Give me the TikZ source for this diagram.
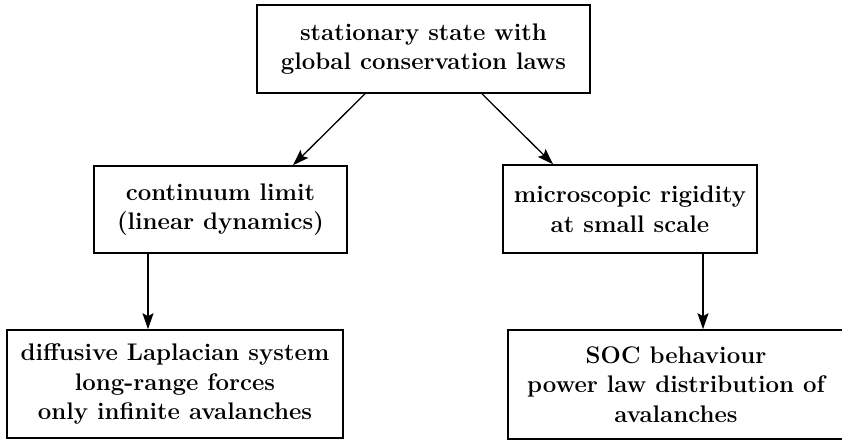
\documentclass[tikz,border=0pt]{standalone}
\usetikzlibrary{arrows.meta}
\tikzset{
  box/.style={draw, line width=1.6pt, inner sep=0pt, align=center,
    font=\fontsize{24}{29.5}\selectfont\bfseries},
  arr/.style={line width=1.3pt, -{Stealth[length=16pt,width=11pt,inset=3pt]}}
}
\begin{document}
\begin{tikzpicture}[x=1pt,y=-1pt]
\useasboundingbox (0,0) rectangle (842,442);
\node[box, minimum width=333pt, minimum height=88pt] (top) at (423.5,49)
  {stationary state with\\global conservation laws};
\node[box, minimum width=253pt, minimum height=87pt] (lm) at (220.5,209.5)
  {continuum limit\\(linear dynamics)};
\node[box, minimum width=254pt, minimum height=88pt] (rm) at (630,209)
  {microscopic rigidity\\at small scale};
\node[box, minimum width=336pt, minimum height=108pt] (bl) at (175,384)
  {diffusive Laplacian system\\long-range forces\\only infinite avalanches};
\node[box, minimum width=336pt, minimum height=109pt] (br) at (676,384.5)
  {SOC behaviour\\power law distribution of\\avalanches};
\draw[arr] ([xshift=-58.5pt]top.south) -- ([xshift=72.5pt]lm.north);
\draw[arr] ([xshift=58.5pt]top.south) -- ([xshift=-77pt]rm.north);
\draw[arr] ([xshift=-72.5pt]lm.south) -- ([xshift=-27pt]bl.north);
\draw[arr] ([xshift=73pt]rm.south) -- ([xshift=27pt]br.north);
\end{tikzpicture}
\end{document}
